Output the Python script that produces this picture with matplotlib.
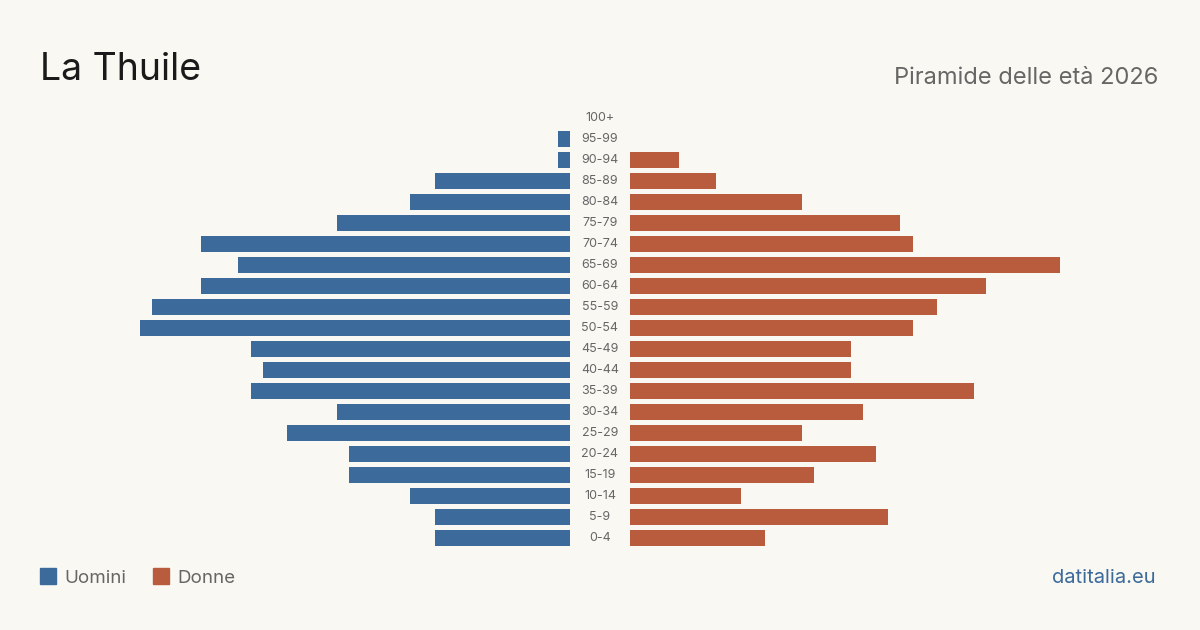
import matplotlib
matplotlib.use("Agg")
import matplotlib.pyplot as plt
from matplotlib.patches import Rectangle

plt.rcParams['font.family'] = ['Inter', 'DejaVu Sans']

age_groups = ["0-4", "5-9", "10-14", "15-19", "20-24", "25-29", "30-34", "35-39",
              "40-44", "45-49", "50-54", "55-59", "60-64", "65-69", "70-74", "75-79",
              "80-84", "85-89", "90-94", "95-99", "100+"]
men = [11, 11, 13, 18, 18, 23, 19, 26, 25, 26, 35, 34, 30, 27, 30, 19, 13, 11, 1, 1, 0]
women = [11, 21, 9, 15, 20, 14, 19, 28, 18, 18, 23, 25, 29, 35, 23, 22, 14, 7, 4, 0, 0]

title = "La Thuile"
subtitle = "Piramide delle età 2026"
source = "datitalia.eu"

BG = "#f9f8f3"
BLUE = "#3b6a9b"
ORANGE = "#b95c3d"
GRAY = "#666666"

W, H = 1200, 630
fig = plt.figure(figsize=(12, 6.3), dpi=100, facecolor=BG)

top = 1 - 107.5 / H
bottom = 1 - 548.5 / H
axL = fig.add_axes([140 / W, bottom, 430 / W, top - bottom])
axR = fig.add_axes([630 / W, bottom, 430 / W, top - bottom])

xmax = 35
ys = list(range(len(age_groups)))
axL.barh(ys, men, height=0.8, color=BLUE)
axR.barh(ys, women, height=0.8, color=ORANGE)
axL.set_xlim(xmax, 0)
axR.set_xlim(0, xmax)
for ax in (axL, axR):
    ax.set_ylim(-0.5, len(age_groups) - 0.5)
    ax.set_axis_off()
    ax.set_facecolor(BG)

for i, lab in enumerate(age_groups):
    y_fig = bottom + (i + 0.5) / len(age_groups) * (top - bottom)
    fig.text(600 / W, y_fig, lab, ha="center", va="center", fontsize=9, color=GRAY)

fig.text(40 / W, 1 - 80 / H, title, ha="left", va="baseline", fontsize=27, color="#1a1a1a")
fig.text(1158 / W, 1 - 84 / H, subtitle, ha="right", va="baseline", fontsize=17, color=GRAY)

# legend
fig.patches.append(Rectangle((40 / W, 1 - 584 / H), 16 / W, 16 / H, transform=fig.transFigure,
                             color=BLUE))
fig.text(64 / W, 1 - 583 / H, "Uomini", ha="left", va="baseline", fontsize=13.5, color=GRAY)
fig.patches.append(Rectangle((153 / W, 1 - 584 / H), 16 / W, 16 / H, transform=fig.transFigure,
                             color=ORANGE))
fig.text(177 / W, 1 - 583 / H, "Donne", ha="left", va="baseline", fontsize=13.5, color=GRAY)

fig.text(1156 / W, 1 - 583 / H, source, ha="right", va="baseline", fontsize=14.5, color=BLUE)

fig.savefig("out.png", dpi=100, facecolor=BG)
